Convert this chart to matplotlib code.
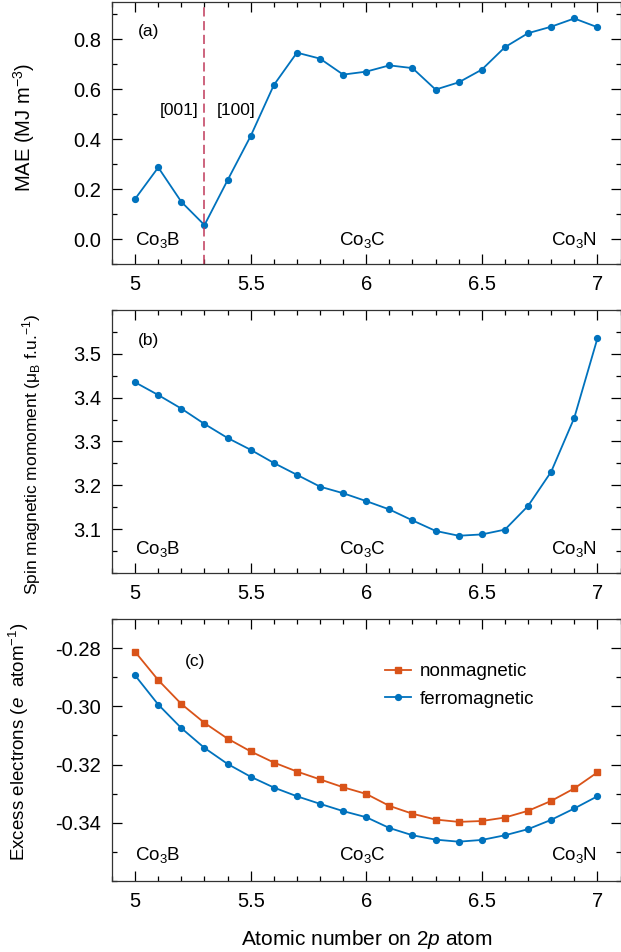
import numpy as np
import matplotlib.pyplot as plt
from matplotlib.ticker import MultipleLocator, FixedLocator, FuncFormatter

plt.rcParams['font.family'] = ['Liberation Sans', 'DejaVu Sans']
plt.rcParams['mathtext.fontset'] = 'custom'
plt.rcParams['mathtext.rm'] = 'Liberation Sans'
plt.rcParams['mathtext.it'] = 'Liberation Sans:italic'
plt.rcParams['mathtext.bf'] = 'Liberation Sans:bold'
plt.rcParams['axes.unicode_minus'] = False

# atomic number on 2p atom
z = [5.0, 5.1, 5.2, 5.3, 5.4, 5.5, 5.6, 5.7, 5.8, 5.9, 6.0,
     6.1, 6.2, 6.3, 6.4, 6.5, 6.6, 6.7, 6.8, 6.9, 7.0]

# (a) MAE
mae = [0.161, 0.287, 0.149, 0.056, 0.236, 0.413, 0.617, 0.747, 0.723, 0.659, 0.671,
       0.696, 0.685, 0.599, 0.628, 0.679, 0.769, 0.825, 0.851, 0.884, 0.849]

# (b) spin moment
spin = [3.435, 3.406, 3.375, 3.340, 3.308, 3.281, 3.251, 3.224, 3.197, 3.182, 3.164,
        3.145, 3.120, 3.096, 3.085, 3.088, 3.099, 3.153, 3.231, 3.354, 3.535]

# (c) excess electrons
nonmag = [-0.2813, -0.2910, -0.2992, -0.3057, -0.3111, -0.3155, -0.3193, -0.3224, -0.3251, -0.3278, -0.3301,
          -0.3342, -0.3369, -0.3389, -0.3397, -0.3394, -0.3382, -0.3359, -0.3325, -0.3282, -0.3227]
ferro = [-0.2894, -0.2994, -0.3075, -0.3143, -0.3198, -0.3242, -0.3279, -0.3309, -0.3335, -0.3360, -0.3381,
         -0.3418, -0.3443, -0.3458, -0.3465, -0.3459, -0.3443, -0.3422, -0.3390, -0.3351, -0.3309]

# labelled y ticks
yt_a = [0.0, 0.2, 0.4, 0.6, 0.8]
yt_b = [3.1, 3.2, 3.3, 3.4, 3.5]
yt_c = [-0.34, -0.32, -0.30, -0.28]

blue = '#0072BD'
orange = '#D95319'

fig = plt.figure(figsize=(6.21, 9.52), dpi=100)
L, W = 0.1804, 0.8188
axa = fig.add_axes([L, 0.7227, W, 0.2752])
axb = fig.add_axes([L, 0.3981, W, 0.2763])
axc = fig.add_axes([L, 0.0746, W, 0.2752])


def style(ax, yticks, yminor, yfmt):
    ax.set_xlim(4.9, 7.1)
    ax.xaxis.set_major_locator(MultipleLocator(0.5))
    ax.xaxis.set_minor_locator(MultipleLocator(0.1))
    ax.yaxis.set_major_locator(FixedLocator(yticks))
    ax.yaxis.set_minor_locator(MultipleLocator(yminor))
    ax.xaxis.set_major_formatter(FuncFormatter(lambda v, p: '%g' % v))
    ax.yaxis.set_major_formatter(FuncFormatter(lambda v, p: yfmt % v))
    ax.tick_params(which='both', direction='in', top=True, right=True, labelsize=14.5, width=0.9)
    ax.tick_params(which='major', length=7, pad=8)
    ax.tick_params(which='minor', length=3.5)
    for s in ax.spines.values():
        s.set_linewidth(0.9)
        s.set_color('#333333')


def compounds(ax, y):
    ax.text(5.0, y, 'Co$_3$B', fontsize=13.5, ha='left', va='baseline')
    ax.text(5.985, y, 'Co$_3$C', fontsize=13.5, ha='center', va='baseline')
    ax.text(7.0, y, 'Co$_3$N', fontsize=13.5, ha='right', va='baseline')


# (a)
axa.plot(z, mae, '-o', color=blue, lw=1.3, ms=4.2)
axa.axvline(5.3, color='#C0395A', lw=1.1, ls=(0, (6, 3)))
axa.set_ylim(-0.1, 0.95)
style(axa, yt_a, 0.1, '%.1f')
axa.set_ylabel('MAE (MJ m$^{-3}$)', fontsize=14.5)
axa.yaxis.set_label_coords(-0.148, 0.52)
axa.text(5.01, 0.813, '(a)', fontsize=12.5, va='baseline')
axa.text(5.108, 0.497, '[001]', fontsize=12.5, va='baseline')
axa.text(5.351, 0.497, '[100]', fontsize=12.5, va='baseline')
compounds(axa, -0.023)

# (b)
axb.plot(z, spin, '-o', color=blue, lw=1.3, ms=4.2)
axb.set_ylim(3.0, 3.6)
style(axb, yt_b, 0.05, '%.1f')
axb.set_ylabel('Spin magnetic momoment (μ$_\\mathrm{B}$ f.u.$^{-1}$)', fontsize=12.5)
axb.yaxis.set_label_coords(-0.135, 0.45)
axb.text(5.01, 3.519, '(b)', fontsize=12.5, va='baseline')
compounds(axb, 3.044)

# (c)
axc.plot(z, nonmag, '-s', color=orange, lw=1.3, ms=3.8, label='nonmagnetic')
axc.plot(z, ferro, '-o', color=blue, lw=1.3, ms=4.2, label='ferromagnetic')
axc.set_ylim(-0.36, -0.27)
style(axc, yt_c, 0.01, '%.2f')
axc.set_ylabel('Excess electrons ($e$  atom$^{-1}$)', fontsize=13.5)
axc.yaxis.set_label_coords(-0.16, 0.53)
axc.text(5.216, -0.2861, '(c)', fontsize=12.5, va='baseline')
compounds(axc, -0.3529)
axc.legend(loc='upper left', bbox_to_anchor=(6.08, -0.2852), bbox_transform=axc.transData,
           frameon=False, fontsize=13.5, borderpad=0, borderaxespad=0,
           handlelength=1.4, handletextpad=0.45, labelspacing=0.55)
axc.set_xlabel('Atomic number on 2$p$ atom', fontsize=15, labelpad=12)

plt.savefig('out.png', dpi=100)
